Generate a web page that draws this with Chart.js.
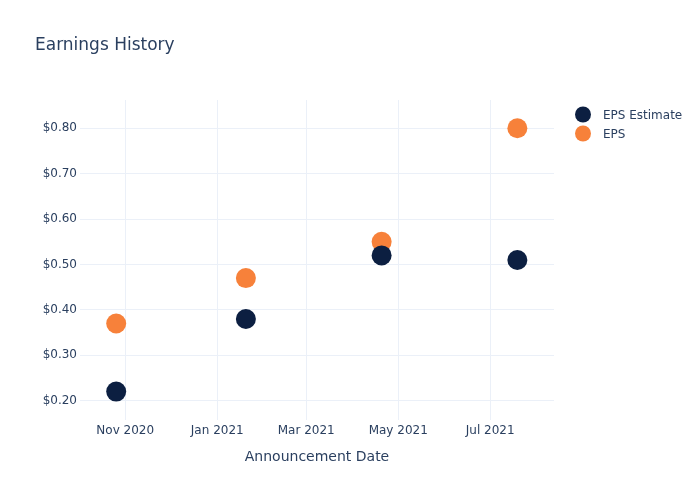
<!DOCTYPE html>
<html>
<head>
<meta charset="utf-8">
<script src="https://cdn.jsdelivr.net/npm/chart.js@4.4.1/dist/chart.umd.min.js"></script>
<style>
  html, body { margin: 0; padding: 0; background: #ffffff; }
  #wrap { width: 700px; height: 500px; }
</style>
</head>
<body>
<div id="wrap"><canvas id="c" width="700" height="500"></canvas></div>
<script>
// ---- data ----
const announceDates = ['2020-10-26', '2021-01-20', '2021-04-20', '2021-07-19'];
const epsEstimate = [0.22, 0.38, 0.52, 0.51];
const epsActual = [0.37, 0.47, 0.55, 0.80];
const seriesNames = ['EPS Estimate', 'EPS'];
const xTickDates = ['2020-11-01', '2021-01-01', '2021-03-01', '2021-05-01', '2021-07-01'];
const xTickLabels = ['Nov 2020', 'Jan 2021', 'Mar 2021', 'May 2021', 'Jul 2021'];
const yTickValues = [0.2, 0.3, 0.4, 0.5, 0.6, 0.7, 0.8];
const chartTitle = 'Earnings History';
const xAxisTitle = 'Announcement Date';

// ---- helpers ----
const DAY = 86400000;
const toMs = s => Date.parse(s + 'T00:00:00Z');
const NAVY = '#0c1f41';
const ORANGE = '#f7813a';
const TEXT = '#2a3f5f';
const GRID = '#ebf0f8';
const FONT = '"DejaVu Sans", Verdana, sans-serif';

const estPoints = announceDates.map((d, i) => ({ x: toMs(d), y: epsEstimate[i] }));
const epsPoints = announceDates.map((d, i) => ({ x: toMs(d), y: epsActual[i] }));
const xTickMs = xTickDates.map(toMs);

const overlay = {
  id: 'overlay',
  afterDraw(chart) {
    const ctx = chart.ctx;
    ctx.save();
    ctx.fillStyle = TEXT;
    ctx.font = '17px ' + FONT;
    ctx.textBaseline = 'middle';
    ctx.textAlign = 'left';
    ctx.fillText(chartTitle, 35, 46);
    const items = [[seriesNames[0], NAVY], [seriesNames[1], ORANGE]];
    items.forEach((it, i) => {
      const y = 114.5 + i * 19;
      ctx.beginPath();
      ctx.arc(583, y, 8, 0, Math.PI * 2);
      ctx.fillStyle = it[1];
      ctx.fill();
      ctx.fillStyle = TEXT;
      ctx.font = '12px ' + FONT;
      ctx.fillText(it[0], 603, y + 1);
    });
    ctx.restore();
  }
};

new Chart(document.getElementById('c'), {
  type: 'scatter',
  data: {
    datasets: [
      { label: seriesNames[0], data: estPoints, backgroundColor: NAVY, borderColor: NAVY, pointRadius: 10, pointHoverRadius: 10, borderWidth: 0 },
      { label: seriesNames[1], data: epsPoints, backgroundColor: ORANGE, borderColor: ORANGE, pointRadius: 10, pointHoverRadius: 10, borderWidth: 0 }
    ]
  },
  options: {
    responsive: false,
    animation: false,
    layout: { padding: { top: 100, right: 146, left: 0, bottom: 0 } },
    plugins: { legend: { display: false }, title: { display: false }, tooltip: { enabled: false } },
    scales: {
      x: {
        type: 'linear',
        min: toMs('2020-10-02'),
        max: toMs('2021-08-12') + 0.3 * DAY,
        afterFit(scale) { scale.height = 80; },
        afterBuildTicks(scale) { scale.ticks = xTickMs.map(v => ({ value: v })); },
        grid: { color: GRID, drawTicks: false, lineWidth: 1 },
        border: { display: false },
        ticks: {
          padding: 4,
          color: TEXT,
          font: { family: FONT, size: 12 },
          maxRotation: 0,
          autoSkip: false,
          callback: (v) => { const i = xTickMs.indexOf(v); return i >= 0 ? xTickLabels[i] : ''; }
        },
        title: { display: true, text: xAxisTitle, color: TEXT, font: { family: FONT, size: 14 }, padding: { top: 0, bottom: 34 } }
      },
      y: {
        type: 'linear',
        min: 0.1575,
        max: 0.8623,
        afterFit(scale) { scale.width = 80; },
        afterBuildTicks(scale) { scale.ticks = yTickValues.map(v => ({ value: v })); },
        grid: { color: GRID, drawTicks: false, lineWidth: 1 },
        border: { display: false },
        ticks: {
          padding: 3,
          color: TEXT,
          font: { family: FONT, size: 12 },
          callback: (v) => '$' + Number(v).toFixed(2)
        }
      }
    }
  },
  plugins: [overlay]
});
</script>
</body>
</html>
